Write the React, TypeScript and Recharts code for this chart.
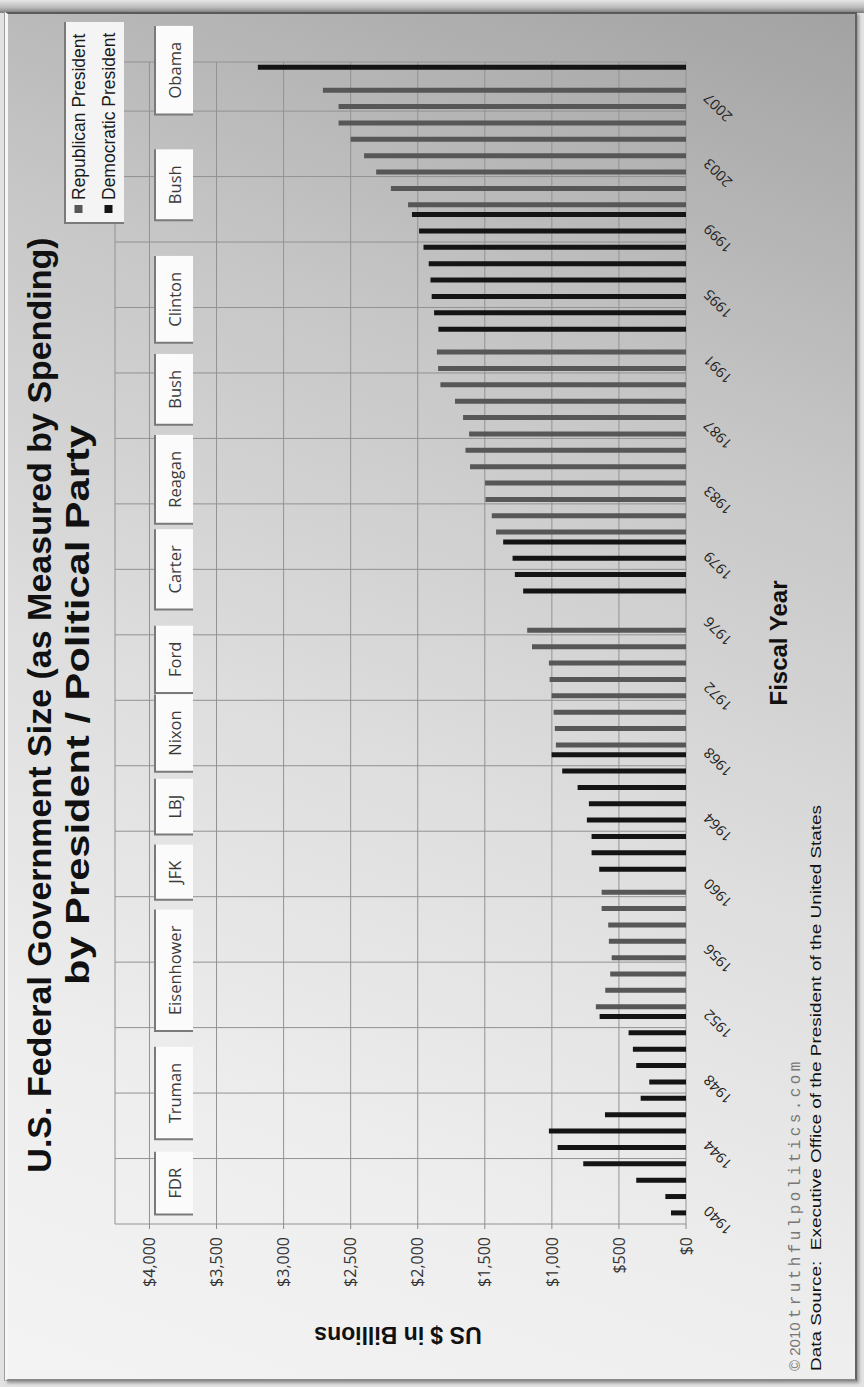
import React from 'react';
import { BarChart, Bar, XAxis, YAxis, CartesianGrid, ReferenceArea } from 'recharts';

// Fiscal years on the category axis; "TQ" is the 1976 transition quarter (no outlays shown).
const fiscalYears = [
  '1940', '1941', '1942', '1943', '1944', '1945', '1946', '1947', '1948', '1949',
  '1950', '1951', '1952', '1953', '1954', '1955', '1956', '1957', '1958', '1959',
  '1960', '1961', '1962', '1963', '1964', '1965', '1966', '1967', '1968', '1969',
  '1970', '1971', '1972', '1973', '1974', '1975', '1976', 'TQ', '1977', '1978',
  '1979', '1980', '1981', '1982', '1983', '1984', '1985', '1986', '1987', '1988',
  '1989', '1990', '1991', '1992', '1993', '1994', '1995', '1996', '1997', '1998',
  '1999', '2000', '2001', '2002', '2003', '2004', '2005', '2006', '2007', '2008',
  '2009',
];

// Federal outlays, billions of dollars, by party of the sitting president.
const republicanSpending: (number | null)[] = [
  null, null, null, null, null, null, null, null, null, null,
  null, null, null, 672, 602, 565, 554, 575, 580, 629,
  629, null, null, null, null, null, null, null, null, 970,
  978, 987, 1002, 1017, 1022, 1148, 1184, null, null, null,
  null, null, 1416, 1448, 1495, 1498, 1610, 1644, 1617, 1662,
  1722, 1831, 1848, 1857, null, null, null, null, null, null,
  null, null, 2072, 2200, 2310, 2400, 2500, 2590, 2590, 2707,
  null,
];

const democraticSpending: (number | null)[] = [
  112, 154, 371, 766, 957, 1022, 604, 338, 274, 371,
  396, 428, 644, null, null, null, null, null, null, null,
  null, 647, 704, 704, 739, 724, 808, 923, 1002, null,
  null, null, null, null, null, null, null, null, 1214, 1276,
  1293, 1363, null, null, null, null, null, null, null, null,
  null, null, null, null, 1846, 1878, 1896, 1905, 1918, 1957,
  1990, 2043, null, null, null, null, null, null, null, null,
  3192,
];

const valueTicks = [0, 500, 1000, 1500, 2000, 2500, 3000, 3500, 4000];

// Vertical rules every four fiscal years, on category boundaries.
const yearRules = [-0.5, 3.5, 7.5, 11.5, 15.5, 19.5, 23.5, 27.5, 31.5, 35.5, 39.5, 43.5, 47.5, 51.5, 55.5, 59.5, 63.5, 67.5];

// President name tags, centred over the given fiscal-year span.
const presidentTags = [
  { name: 'FDR', from: '1942', to: '1942' },
  { name: 'Truman', from: '1947', to: '1948' },
  { name: 'Eisenhower', from: '1955', to: '1955' },
  { name: 'JFK', from: '1961', to: '1961' },
  { name: 'LBJ', from: '1965', to: '1965' },
  { name: 'Nixon', from: '1969', to: '1970' },
  { name: 'Ford', from: '1974', to: '1974' },
  { name: 'Carter', from: '1978', to: '1979' },
  { name: 'Reagan', from: '1984', to: '1984' },
  { name: 'Bush', from: '1989', to: '1990' },
  { name: 'Clinton', from: '1995', to: '1995' },
  { name: 'Bush', from: '2002', to: '2002' },
  { name: 'Obama', from: '2009', to: '2009' },
];

const rows = fiscalYears.map((year, i) => ({
  year,
  idx: i,
  republican: republicanSpending[i],
  democratic: democraticSpending[i],
}));

const REP_COLOR = '#575757';
const DEM_COLOR = '#141414';
const SANS = '"Liberation Sans", Arial, sans-serif';
const SOFT = '"Open Sans", "Noto Sans", sans-serif';
const MONO = '"Liberation Mono", "Courier New", monospace';
const TAG_FONT_SIZE = 16.5;

// Landscape drawing size; the wrapper stands it on its side.
const W = 1387;
const H = 864;

let measureCtx: CanvasRenderingContext2D | null = null;
function textWidth(text: string, font: string): number {
  if (typeof document !== 'undefined') {
    if (!measureCtx) measureCtx = document.createElement('canvas').getContext('2d');
    if (measureCtx) {
      measureCtx.font = font;
      return measureCtx.measureText(text).width;
    }
  }
  return text.length * 8.5;
}

const PresidentTag = (props: any) => {
  const { x, y, width, name } = props;
  const cx = x + width / 2;
  const w = textWidth(name, `${TAG_FONT_SIZE}px "Open Sans"`) + 32;
  const top = y + 40;
  const h = 38;
  const left = cx - w / 2;
  return (
    <g>
      <rect x={left} y={top} width={w} height={h} fill="#fbfbfb" />
      <polyline
        points={`${left + w},${top} ${left},${top} ${left},${top + h}`}
        fill="none"
        stroke="#7a7a7a"
        strokeWidth={2}
      />
      <text
        x={cx}
        y={top + h / 2}
        textAnchor="middle"
        dominantBaseline="central"
        fontFamily={SOFT}
        fontSize={TAG_FONT_SIZE}
        fill="#3a3a3a"
      >
        {name}
      </text>
    </g>
  );
};

const YearTick = (props: any) => {
  const { x, y, payload } = props;
  const ax = x + 7;
  return (
    <text
      x={ax}
      y={y}
      transform={`rotate(-45 ${ax} ${y})`}
      textAnchor="end"
      dominantBaseline="central"
      fontFamily={SOFT}
      fontSize={14.5}
      fill="#222"
    >
      {payload.value}
    </text>
  );
};

const formatDollars = (v: number) => `$${v.toLocaleString('en-US')}`;

function Frame() {
  return (
    <>
      <div
        style={{
          position: 'absolute',
          left: 0,
          top: 0,
          width: 864,
          height: 13,
          background: 'linear-gradient(180deg, #e6e6e6 0%, #bdbdbd 55%, #7c7c7c 100%)',
        }}
      />
      <div
        style={{
          position: 'absolute',
          left: 5,
          top: 12,
          width: 852,
          height: 1369,
          boxSizing: 'border-box',
          borderTop: '2px solid #5a5a5a',
          borderRight: '2px solid #626262',
          borderLeft: '3px solid #f6f6f6',
          borderBottom: '2px solid #8a8a8a',
          boxShadow: '-1px 0 0 #a0a0a0, 2px 2px 3px rgba(0,0,0,0.35)',
          background: 'linear-gradient(200deg, #a2a2a2 0%, #c6c6c6 28%, #dedede 55%, #eeeeee 80%, #f3f3f3 100%)',
        }}
      />
    </>
  );
}

function Annotations() {
  return (
    <svg
      width={W}
      height={H}
      style={{ position: 'absolute', left: 0, top: 0, pointerEvents: 'none' }}
    >
      <text x={682} y={51} textAnchor="middle" fontFamily={SANS} fontWeight="bold" fontSize={34} fill="#111">
        U.S. Federal Government Size (as Measured by Spending)
      </text>
      <text
        x={682}
        y={89}
        textAnchor="middle"
        fontFamily={SANS}
        fontWeight="bold"
        fontSize={34}
        fill="#111"
        textLength={560}
        lengthAdjust="spacingAndGlyphs"
      >
        by President / Political Party
      </text>

      {/* legend */}
      <rect x={1164} y={65} width={201} height={59} fill="#f4f4f4" />
      <polyline points="1365,65 1164,65 1164,124" fill="none" stroke="#7a7a7a" strokeWidth={2} />
      <rect x={1174} y={74.5} width={8} height={8} fill={REP_COLOR} />
      <text x={1187} y={84.5} fontFamily={SANS} fontSize={17.5} fill="#1a1a1a">Republican President</text>
      <rect x={1174} y={104.5} width={8} height={8} fill={DEM_COLOR} />
      <text x={1187} y={114.5} fontFamily={SANS} fontSize={17.5} fill="#1a1a1a">Democratic President</text>

      {/* axis titles */}
      <text
        x={52}
        y={398}
        transform="rotate(-90 52 398)"
        textAnchor="middle"
        dominantBaseline="central"
        fontFamily={SANS}
        fontWeight="bold"
        fontSize={23}
        fill="#111"
      >
        US $ in Billions
      </text>
      <text x={744} y={787} textAnchor="middle" fontFamily={SANS} fontWeight="bold" fontSize={24} fill="#111">
        Fiscal Year
      </text>

      {/* credits */}
      <text x={16} y={800} fontFamily={SANS} fontSize={15} fill="#777" style={{ whiteSpace: 'pre' }}>
        {'\u00A9 2010 '}
        <tspan fontFamily={MONO} fontSize={16} letterSpacing={3.4}>truthfulpolitics.com</tspan>
      </text>
      <text
        x={16}
        y={821}
        fontFamily={SANS}
        fontSize={15.5}
        fill="#111"
        style={{ whiteSpace: 'pre' }}
        textLength={566}
        lengthAdjust="spacingAndGlyphs"
      >
        {'Data Source:  Executive Office of the President of the United States'}
      </text>
    </svg>
  );
}

export default function App() {
  return (
    <div
      style={{
        position: 'absolute',
        left: 0,
        top: 0,
        width: 864,
        height: 1387,
        overflow: 'hidden',
        background: '#e2e2e2',
      }}
    >
      <Frame />
      <div
        style={{
          position: 'absolute',
          left: 0,
          top: 1387,
          width: W,
          height: H,
          transformOrigin: '0 0',
          transform: 'rotate(-90deg)',
        }}
      >
        <div style={{ position: 'absolute', left: 0, top: 0 }}>
          <BarChart
            width={W}
            height={H}
            data={rows}
            margin={{ top: 115, right: 62, bottom: 138, left: 83 }}
            barSize={5}
            barGap={1.6}
          >
            <XAxis
              dataKey="year"
              type="category"
              interval={3}
              tick={<YearTick />}
              tickLine={false}
              axisLine={false}
              tickSize={0}
              tickMargin={20}
              height={40}
            />
            <XAxis
              xAxisId="rules"
              dataKey="idx"
              type="number"
              domain={[-0.5, 70.5]}
              ticks={yearRules}
              allowDataOverflow
              hide
            />
            {/* value axis runs on above $4,000 to make room for the president tags */}
            <YAxis
              type="number"
              domain={[0, 4257]}
              ticks={valueTicks}
              tickFormatter={formatDollars}
              width={80}
              tickSize={5}
              tickMargin={8}
              axisLine={false}
              tickLine={{ stroke: '#8a8a8a' }}
              tick={{ fontFamily: SOFT, fontSize: 16, fill: '#333' }}
            />
            <CartesianGrid xAxisId="rules" stroke="#929292" strokeWidth={1} />
            {presidentTags.map((p, i) => (
              <ReferenceArea
                key={`${p.name}-${i}`}
                x1={p.from}
                x2={p.to}
                ifOverflow="visible"
                shape={(sp: any) => <PresidentTag {...sp} name={p.name} />}
              />
            ))}
            <Bar dataKey="republican" name="Republican President" fill={REP_COLOR} isAnimationActive={false} />
            <Bar dataKey="democratic" name="Democratic President" fill={DEM_COLOR} isAnimationActive={false} />
          </BarChart>
        </div>
        <Annotations />
      </div>
    </div>
  );
}
